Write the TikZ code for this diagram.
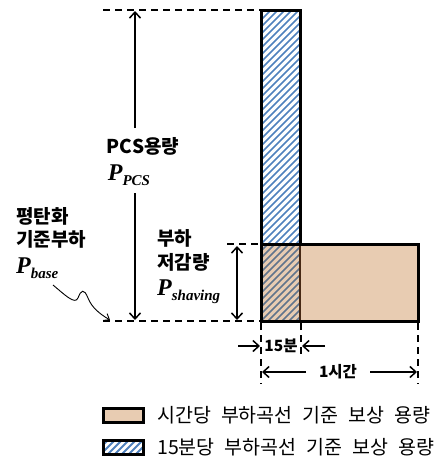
\documentclass[tikz,border=0pt]{standalone}
\usepackage{fontspec}
\usetikzlibrary{arrows.meta}
\newfontfamily\kr{Noto Sans CJK KR}
\newfontfamily\tms{Liberation Serif}
\definecolor{tan}{RGB}{232,204,178}
\definecolor{hatchblue}{RGB}{79,129,189}
\definecolor{hatchslate}{RGB}{96,116,140}
\definecolor{edgebrown}{RGB}{70,40,20}
\newcommand{\PP}[1]{{\tms\bfseries\itshape\fontsize{24}{26}\selectfont P\raisebox{-5pt}{\fontsize{15}{16}\selectfont #1}}}
\newcommand{\legsp}{\spaceskip=10pt plus 1pt\relax}
\begin{document}
\begin{tikzpicture}[x=1pt,y=-1pt,
  lbl/.style={inner sep=0pt,font=\kr\bfseries\fontsize{19}{22}\selectfont},
  lblleft/.style={lbl,anchor=west},
  small/.style={inner sep=0pt,font=\kr\bfseries\fontsize{15.5}{17}\selectfont},
  legtxt/.style={inner sep=0pt,anchor=west,font=\kr\fontsize{19.5}{22}\selectfont},
  dashline/.style={line width=1.5pt,dash pattern=on 7pt off 5pt},
  dimarrow/.style={line width=1.5pt,-{Straight Barb[length=6pt,width=11pt,line width=1.5pt]}},
  dimboth/.style={line width=1.5pt,{Straight Barb[length=6pt,width=11pt,line width=1.5pt]}-{Straight Barb[length=6pt,width=11pt,line width=1.5pt]}},
  border/.style={line width=3pt,line join=miter},
  hatch/.style={line width=1.6pt,hatchblue},
  ]
\useasboundingbox (0,0) rectangle (439,463);
% wide rectangle fill
\fill[tan] (261,244) rectangle (418,321);
% overlap hatch
\begin{scope}
\clip (261,244) rectangle (300,321);
\foreach \a in {-70,-63,...,320} \draw[line width=1.6pt,hatchslate] (\a,330) -- ++(340,-340);
\end{scope}
% tall rect hatch
\begin{scope}
\clip (261,10) rectangle (300,244);
\foreach \a in {-70,-63,...,320} \draw[hatch] (\a,330) -- ++(340,-340);
\end{scope}
\draw[line width=1.8pt,edgebrown] (300,244) -- (300,321);
\draw[border] (261,10) rectangle (300,244);
\draw[border] (261,244) rectangle (418,321);

% named coordinates
\coordinate (tl) at (261,10);
\coordinate (ml) at (261,244);
\coordinate (bl) at (261,321);
\coordinate (tdash) at (103,10);
\coordinate (mdash) at (227,244);
\coordinate (bdash) at (103,321);
\coordinate (pcstop) at (135,11);
\coordinate (pcsbot) at (135,320);
\coordinate (shtop) at (237,246);
\coordinate (shbot) at (237,320);

\draw[dashline] (tdash) -- (tl);
\draw[dashline] (mdash) -- (ml);
\draw[dashline] (bdash) -- (bl);

% vertical dashed
\coordinate (v1a) at (261,323); \coordinate (v1b) at (261,384);
\coordinate (v2a) at (301,323); \coordinate (v2b) at (301,354);
\coordinate (v3a) at (418,323); \coordinate (v3b) at (418,384);
\draw[dashline] (v1a) -- (v1b);
\draw[dashline] (v2a) -- (v2b);
\draw[dashline] (v3a) -- (v3b);

% labels
\node[lbl] (pcs) at (143,146) {PCS용량};
\node[inner sep=0pt] (ppcs) at (129,175) {\PP{PCS}};
\draw[dimarrow] (135,128) -- (pcstop);
\draw[dimarrow] (135,193) -- (pcsbot);

\node[lblleft] (base1) at (16,216) {평탄화};
\node[lblleft] (base2) at (16,239) {기준부하};
\node[inner sep=0pt,anchor=west] (pbase) at (16,268) {\PP{base}};
\coordinate (sqs) at (53,285);
\coordinate (sqe) at (110,320);
\draw[line width=0.9pt,-{Straight Barb[length=5pt,width=8pt,line width=0.9pt]}] (sqs) .. controls (65,295) and (75,305) .. (78,298) .. controls (81,290) and (84,288) .. (88,298) .. controls (92,308) and (100,314) .. (sqe);

\node[lblleft] (sh1) at (157,238) {부하};
\node[lblleft] (sh2) at (157,262) {저감량};
\node[inner sep=0pt,anchor=west] (psh) at (157,292) {\PP{shaving}};
\draw[dimboth] (shtop) -- (shbot);

% 15분
\node[small] (q) at (281,346) {15분};
\coordinate (qa) at (238,346); \coordinate (qb) at (260,346);
\coordinate (qc) at (325,346); \coordinate (qd) at (302,346);
\draw[dimarrow] (qa) -- (qb);
\draw[dimarrow] (qc) -- (qd);

% 1시간
\node[small] (h) at (338,372) {1시간};
\coordinate (ha) at (306,372); \coordinate (hb) at (262,372);
\coordinate (hc) at (370,372); \coordinate (hd) at (417,372);
\draw[dimarrow] (ha) -- (hb);
\draw[dimarrow] (hc) -- (hd);

% legend
\fill[tan] (103,408) rectangle (143,422);
\draw[border] (103,408) rectangle (143,422);
\node[legtxt] (leg1) at (157,415) {\legsp 시간당 부하곡선 기준 보상 용량};
\begin{scope}
\clip (103,440) rectangle (143,454);
\foreach \a in {60,67,...,150} \draw[line width=2pt,hatchblue] (\a,460) -- ++(25,-25);
\end{scope}
\draw[border] (103,440) rectangle (143,454);
\node[legtxt] (leg2) at (157,447) {\legsp 15분당 부하곡선 기준 보상 용량};
\end{tikzpicture}
\end{document}
